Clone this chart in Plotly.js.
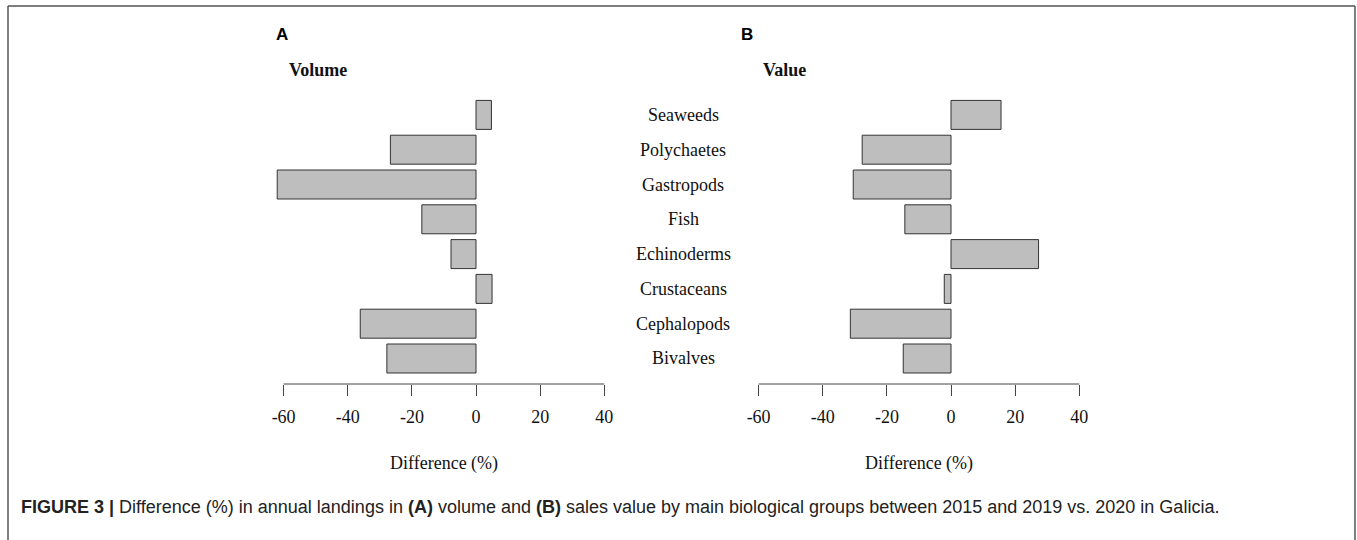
<!DOCTYPE html>
<html>
<head>
<meta charset="utf-8">
<script src="https://cdn.plot.ly/plotly-3.0.1.min.js"></script>
<style>
html,body{margin:0;padding:0;background:#fff;}
#chart{width:1357px;height:540px;}
</style>
</head>
<body>
<div id="chart"></div>
<script>
// Data
const categories = ["Bivalves","Cephalopods","Crustaceans","Echinoderms","Fish","Gastropods","Polychaetes","Seaweeds"];
const volumeDiff = [-27.8, -36.1, 5.0, -7.8, -16.9, -62.0, -26.7, 4.8];
const valueDiff  = [-14.9, -31.4, -2.1, 27.3, -14.4, -30.5, -27.7, 15.6];
const tickVals = [-60, -40, -20, 0, 20, 40];
const tickText = ["-60", "-40", "-20", "0", "20", "40"];

const W = 1357, H = 540;
const px = v => v / W;
const py = v => 1 - v / H;

const serif = "Liberation Serif, Times New Roman, serif";
const sans = "Liberation Sans, Arial, sans-serif";

const barStyle = {
  type: "bar",
  orientation: "h",
  marker: {color: "#bebebe", line: {color: "#333333", width: 1}},
  hoverinfo: "x+y",
  showlegend: false
};

const traces = [
  Object.assign({}, barStyle, {x: volumeDiff, y: categories, xaxis: "x", yaxis: "y"}),
  Object.assign({}, barStyle, {x: valueDiff, y: categories, xaxis: "x2", yaxis: "y2"})
];

const yDomain = [py(384), py(95)];
const xRange = [-64, 44];

function xax(domain, anchor) {
  return {
    domain: domain, anchor: anchor, range: xRange,
    showline: false, showgrid: false, zeroline: false,
    ticks: "outside", ticklen: 11, tickwidth: 1, tickcolor: "#444",
    ticklabelstandoff: 5,
    tickvals: tickVals, ticktext: tickText,
    tickfont: {family: serif, size: 18, color: "#111"},
    fixedrange: true
  };
}
function yax(anchor) {
  return {
    domain: yDomain, anchor: anchor,
    type: "category", categoryorder: "array", categoryarray: categories,
    range: [-0.733, 7.572],
    showline: false, showgrid: false, zeroline: false,
    showticklabels: false, ticks: "",
    fixedrange: true
  };
}

const annotations = [];
// category labels in the middle
categories.forEach(c => annotations.push({
  xref: "paper", yref: "y", x: px(683), y: c, text: c, showarrow: false,
  xanchor: "center", yanchor: "middle", font: {family: serif, size: 18, color: "#111"}
}));
// panel letters and titles
annotations.push(
  {xref: "paper", yref: "paper", x: px(274), y: py(35), text: "<b>A</b>", showarrow: false, xanchor: "left", yanchor: "middle", font: {family: sans, size: 17, color: "#000"}},
  {xref: "paper", yref: "paper", x: px(739), y: py(35), text: "<b>B</b>", showarrow: false, xanchor: "left", yanchor: "middle", font: {family: sans, size: 17, color: "#000"}},
  {xref: "paper", yref: "paper", x: px(287), y: py(70), text: "<b>Volume</b>", showarrow: false, xanchor: "left", yanchor: "middle", font: {family: serif, size: 18, color: "#111"}},
  {xref: "paper", yref: "paper", x: px(761), y: py(70), text: "<b>Value</b>", showarrow: false, xanchor: "left", yanchor: "middle", font: {family: serif, size: 18, color: "#111"}},
  {xref: "x", yref: "paper", x: -10, y: py(463), text: "Difference (%)", showarrow: false, xanchor: "center", yanchor: "middle", font: {family: serif, size: 18, color: "#111"}},
  {xref: "x2", yref: "paper", x: -10, y: py(463), text: "Difference (%)", showarrow: false, xanchor: "center", yanchor: "middle", font: {family: serif, size: 18, color: "#111"}},
  {xref: "paper", yref: "paper", x: px(19), y: py(507), text: "<b>FIGURE 3 |</b> Difference (%) in annual landings in <b>(A)</b> volume and <b>(B)</b> sales value by main biological groups between 2015 and 2019 vs. 2020 in Galicia.", showarrow: false, xanchor: "left", yanchor: "middle", font: {family: sans, size: 18, color: "#222"}}
);

const shapes = [
  // axis lines from -60 to 40
  {type: "line", xref: "x", yref: "paper", x0: -60, x1: 40, y0: yDomain[0], y1: yDomain[0], line: {color: "#444", width: 1}},
  {type: "line", xref: "x2", yref: "paper", x0: -60, x1: 40, y0: yDomain[0], y1: yDomain[0], line: {color: "#444", width: 1}},
  // figure border (open at bottom)
  {type: "line", xref: "paper", yref: "paper", x0: px(8), x1: px(8), y0: py(6), y1: 0, line: {color: "#555", width: 1.5}},
  {type: "line", xref: "paper", yref: "paper", x0: px(8), x1: px(1355), y0: py(6), y1: py(6), line: {color: "#555", width: 1.5}},
  {type: "line", xref: "paper", yref: "paper", x0: px(1355), x1: px(1355), y0: py(6), y1: 0, line: {color: "#555", width: 1.5}}
];

const layout = {
  width: W, height: H,
  margin: {l: 0, r: 0, t: 0, b: 0, pad: 0},
  paper_bgcolor: "#fff", plot_bgcolor: "#fff",
  bargap: 0.167,
  xaxis: xax([px(270.8), px(617.1)], "y"),
  yaxis: yax("x"),
  xaxis2: xax([px(745.8), px(1092.1)], "y2"),
  yaxis2: yax("x2"),
  annotations: annotations,
  shapes: shapes,
  showlegend: false
};

Plotly.newPlot("chart", traces, layout, {displayModeBar: false, staticPlot: true});
</script>
</body>
</html>
